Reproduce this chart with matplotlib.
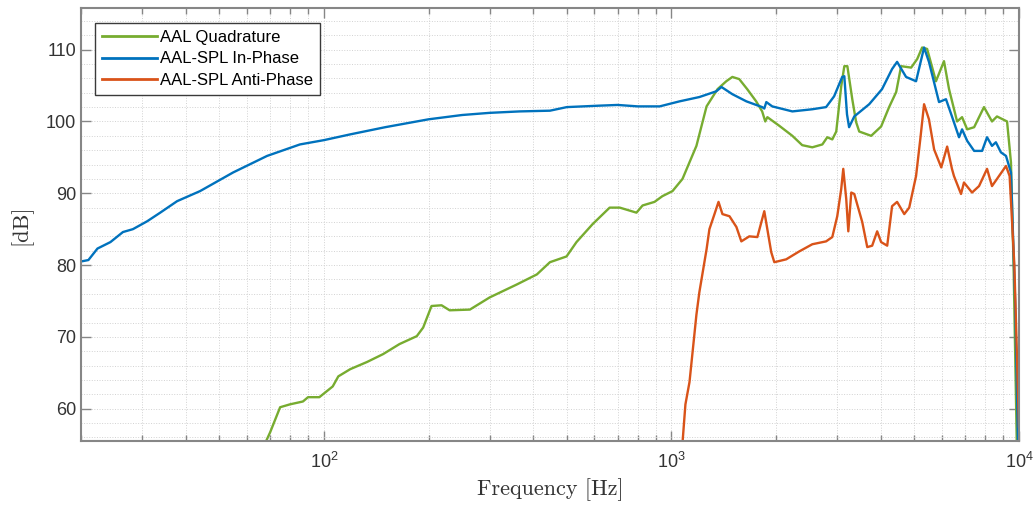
"""
Frequency response of the AAL / AAL-SPL configurations (log frequency axis).
"""

import matplotlib

matplotlib.use("Agg")
import matplotlib.pyplot as plt
from matplotlib.ticker import LogLocator, MultipleLocator, NullFormatter

# ─── Data ────────────────────────────────────────────────────────────────────
quad_freq = [66, 70, 74.8, 79.8, 87, 90, 97, 106, 110, 119, 133, 148, 165, 185,
             193, 204, 218, 230, 263, 300, 359, 410, 447, 499, 533, 593, 664,
             710, 793, 826, 894, 942, 1007, 1076, 1120, 1180, 1262, 1357, 1438,
             1497, 1567, 1652, 1753, 1824, 1862, 1888, 2043, 2228, 2378, 2543,
             2718, 2808, 2903, 2980, 3080, 3144, 3208, 3314, 3400, 3470, 3756,
             4012, 4230, 4433, 4580, 4895, 5096, 5265, 5442, 5770, 6085, 6292,
             6637, 6860, 7096, 7431, 7931, 8364, 8645, 9242, 9484, 9650, 9800,
             9900]
quad_db = [54.0, 56.7, 60.2, 60.6, 61.0, 61.6, 61.6, 63.1, 64.5, 65.5, 66.5,
           67.6, 69.0, 70.1, 71.3, 74.3, 74.4, 73.7, 73.8, 75.5, 77.3, 78.7,
           80.4, 81.2, 83.2, 85.7, 88.0, 88.0, 87.3, 88.3, 88.8, 89.6, 90.3,
           92.0, 94.0, 96.6, 102.1, 104.5, 105.6, 106.2, 105.9, 104.5, 102.8,
           101.4, 100.0, 100.6, 99.4, 98.0, 96.7, 96.4, 96.8, 97.8, 97.5, 98.6,
           104.9, 107.7, 107.7, 103.1, 99.9, 98.6, 98.0, 99.3, 102.0, 104.1,
           107.7, 107.5, 108.7, 110.3, 110.1, 105.6, 108.4, 104.5, 100.0, 100.6,
           98.9, 99.2, 102.0, 100.0, 100.7, 100.0, 94.3, 80.0, 62.0, 50.0]

inphase_freq = [20, 21, 22.3, 24.3, 26.4, 28.2, 31, 33.8, 37.8, 44, 54.8, 68.6,
                85.3, 100, 119, 150, 200, 250, 300, 366, 447, 500, 620, 700,
                800, 925, 1055, 1203, 1346, 1393, 1497, 1643, 1824, 1850, 1875,
                1950, 2228, 2543, 2786, 2938, 3100, 3144, 3200, 3245, 3358,
                3707, 4036, 4314, 4460, 4733, 5057, 5333, 5508, 5888, 6166,
                6415, 6723, 6860, 7096, 7431, 7833, 8094, 8364, 8582, 8873,
                9177, 9484, 9750, 9950]
inphase_db = [80.5, 80.7, 82.3, 83.2, 84.6, 85.0, 86.1, 87.3, 88.9, 90.3, 92.9,
              95.2, 96.8, 97.4, 98.2, 99.2, 100.3, 100.9, 101.2, 101.4, 101.5,
              102.0, 102.2, 102.3, 102.1, 102.1, 102.8, 103.4, 104.2, 104.8,
              103.8, 102.8, 102.0, 101.8, 102.7, 102.1, 101.4, 101.7, 102.0,
              103.5, 106.2, 106.3, 101.0, 99.2, 100.7, 102.4, 104.5, 107.3,
              108.3, 106.2, 105.6, 110.3, 108.3, 102.7, 103.1, 100.7, 97.8,
              98.9, 97.3, 95.9, 95.9, 97.8, 96.6, 97.1, 95.7, 95.2, 92.9, 75.0,
              54.0]

anti_freq = [1060, 1077, 1097, 1127, 1180, 1203, 1262, 1286, 1330, 1366, 1402,
             1469, 1538, 1589, 1675, 1767, 1850, 1937, 1977, 2139, 2332, 2543,
             2786, 2903, 3000, 3080, 3122, 3184, 3228, 3292, 3358, 3540, 3660,
             3781, 3908, 4012, 4177, 4314, 4460, 4677, 4833, 5057, 5200, 5333,
             5508, 5700, 5976, 6214, 6415, 6501, 6812, 6946, 7328, 7676, 8094,
             8364, 9177, 9400, 9700, 10000]
anti_db = [50.0, 55.5, 60.6, 63.7, 73.1, 76.2, 82.2, 85.0, 87.1, 88.8, 87.1,
           86.8, 85.3, 83.3, 84.0, 83.9, 87.5, 81.8, 80.4, 80.8, 81.9, 82.9,
           83.3, 83.9, 86.8, 90.6, 93.4, 89.2, 84.7, 90.1, 89.9, 86.0, 82.5,
           82.7, 84.7, 83.2, 82.7, 88.2, 88.8, 87.1, 88.0, 92.4, 97.5, 102.4,
           100.3, 96.1, 93.6, 96.5, 93.4, 92.4, 89.9, 91.5, 90.1, 91.0, 93.4,
           91.0, 93.8, 92.4, 80.0, 57.5]

labels = ["AAL Quadrature", "AAL-SPL In-Phase", "AAL-SPL Anti-Phase"]

# ─── Style ───────────────────────────────────────────────────────────────────
COLORS = ["#77AC30", "#0072BD", "#D95319"]
TEXT_GRAY = "#333333"
AXIS_GRAY = "#868686"
GRID_GRAY = "#d2d2d2"

plt.rcParams["font.family"] = ["Liberation Sans", "DejaVu Sans"]


def main():
    fig = plt.figure(figsize=(10.35, 5.07), dpi=100)
    ax = fig.add_axes([0.0783, 0.1302, 0.9062, 0.854])

    series = [(quad_freq, quad_db), (inphase_freq, inphase_db), (anti_freq, anti_db)]
    for (f, db), color, label in zip(series, COLORS, labels):
        ax.plot(f, db, color=color, lw=1.7, label=label)

    ax.set_xscale("log")
    ax.set_xlim(20, 1e4)
    ax.set_ylim(55.5, 115.8)

    ax.yaxis.set_major_locator(MultipleLocator(10))
    ax.yaxis.set_minor_locator(MultipleLocator(2))
    ax.xaxis.set_minor_locator(LogLocator(base=10, subs=range(2, 10)))
    ax.xaxis.set_minor_formatter(NullFormatter())

    ax.grid(True, which="both", ls=":", lw=0.7, color=GRID_GRAY)
    ax.set_axisbelow(True)

    ax.tick_params(which="both", direction="in", top=True, right=True,
                   colors=AXIS_GRAY, labelcolor=TEXT_GRAY, labelsize=13)
    ax.tick_params(which="major", length=7, width=1)
    ax.tick_params(axis="x", which="minor", length=4, width=1)
    ax.tick_params(axis="y", which="minor", length=0)
    ax.tick_params(axis="x", which="major", pad=8)
    for spine in ax.spines.values():
        spine.set_color(AXIS_GRAY)
        spine.set_linewidth(1.5)

    ax.set_xlabel("Frequency [Hz]", family="cmr10", fontsize=16, color=TEXT_GRAY, labelpad=4)
    ax.set_ylabel("[dB]", family="cmr10", fontsize=16, color=TEXT_GRAY, labelpad=10)

    leg = ax.legend(loc="upper left", bbox_to_anchor=(0.015, 0.965), borderaxespad=0,
                    fontsize=12, handlelength=3.3, handletextpad=0.15,
                    labelspacing=0.38, borderpad=0.42, fancybox=False,
                    framealpha=1, edgecolor="#3a3a3a")
    leg.get_frame().set_linewidth(1.0)
    for line in leg.get_lines():
        line.set_linewidth(2)

    fig.savefig("out.png", dpi=100)
    plt.close(fig)


if __name__ == "__main__":
    main()
